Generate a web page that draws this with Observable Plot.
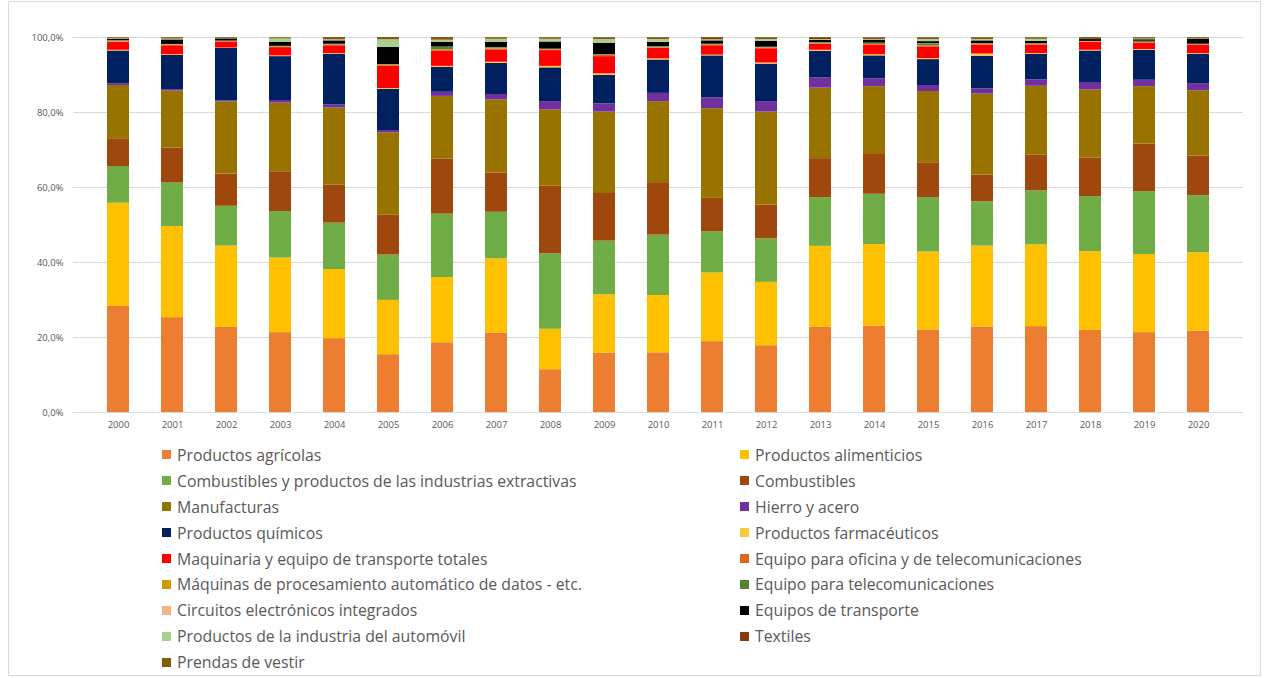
<!DOCTYPE html>
<html><head><meta charset="utf-8">
<script src="https://cdn.jsdelivr.net/npm/d3@7"></script>
<script src="https://cdn.jsdelivr.net/npm/@observablehq/plot@0.6"></script>
<style>
body{margin:0;background:#fff;font-family:"Open Sans",Roboto,sans-serif;}
#frame{position:absolute;left:8px;top:1px;width:1253px;height:675px;border:1px solid #d9d9d9;box-sizing:border-box;}
#chart{position:absolute;left:0;top:0}
#legend{position:absolute;left:162px;top:442px;display:grid;grid-template-columns:578px 500px;grid-auto-rows:25.9px;}
.item{display:flex;align-items:center;font-size:15.8px;color:#595959;white-space:nowrap}
.sw{width:9px;height:9px;margin-right:6px;flex:none}
</style></head>
<body>
<div id="frame"></div>
<div id="chart"></div>
<div id="legend"></div>
<script>
const years = ["2000","2001","2002","2003","2004","2005","2006","2007","2008","2009","2010","2011","2012","2013","2014","2015","2016","2017","2018","2019","2020"];
const categories = [
  "Productos agrícolas","Productos alimenticios",
  "Combustibles y productos de las industrias extractivas","Combustibles",
  "Manufacturas","Hierro y acero",
  "Productos químicos","Productos farmacéuticos",
  "Maquinaria y equipo de transporte totales","Equipo para oficina y de telecomunicaciones",
  "Máquinas de procesamiento automático de datos - etc.","Equipo para telecomunicaciones",
  "Circuitos electrónicos integrados","Equipos de transporte",
  "Productos de la industria del automóvil","Textiles",
  "Prendas de vestir"
];
const colors = ["#ED7D31","#FFC000","#70AD47","#9E480E","#997300","#7030A0","#002060","#FFC93C","#FF0000","#E0661A","#CC9C00","#548235","#F4B183","#000000","#A9D18E","#843C0C","#7F6000"];

const agricolas    = [28.3,25.3,22.7,21.3,19.7,15.4,18.6,21.2,11.4,15.8,15.9,18.9,17.8,22.8,23.0,22.0,22.8,22.9,21.9,21.3,21.7];
const alimenticios = [27.5,24.3,21.7,19.9,18.4,14.5,17.4,19.8,10.8,15.6,15.3,18.3,16.9,21.5,21.8,20.8,21.6,21.8,21.0,20.8,20.9];
const combExtract  = [9.8,11.6,10.6,12.4,12.4,12.1,16.9,12.4,20.1,14.3,16.1,11.0,11.6,13.0,13.4,14.5,11.8,14.4,14.7,16.8,15.2];
const combustibles = [7.4,9.3,8.6,10.6,10.2,10.7,14.7,10.5,18.1,12.7,14.0,8.9,9.0,10.4,10.6,9.3,7.1,9.5,10.3,12.7,10.6];
const manufacturas = [14.2,15.2,19.2,18.3,20.5,21.9,16.7,19.5,20.3,21.7,21.6,23.9,24.8,18.8,18.1,19.0,21.6,18.4,18.1,15.3,17.4];
const hierro       = [0.4,0.4,0.3,0.7,0.8,0.6,1.1,1.4,2.2,2.2,2.2,2.9,2.8,2.7,2.1,1.6,1.4,1.7,2.0,1.7,1.9];
const quimicos     = [8.8,9.1,14.0,11.7,13.5,11.0,6.6,8.3,9.0,7.6,8.9,11.2,10.0,7.1,6.1,6.9,8.7,6.8,8.4,8.0,7.8];
const farmaceut    = [0.2,0.2,0.1,0.2,0.2,0.2,0.3,0.3,0.4,0.4,0.3,0.2,0.3,0.3,0.3,0.3,0.6,0.2,0.2,0.2,0.2];
const maquinaria   = [2.1,2.4,1.6,2.2,2.1,5.9,4.0,3.3,4.2,4.6,2.8,2.5,3.8,1.6,2.6,3.1,2.4,2.3,2.1,1.7,2.2];
const oficinaTel   = [0.15,0.1,0.1,0.1,0.1,0.2,0.3,0.2,0.2,0.3,0.1,0.2,0.2,0.1,0.1,0.2,0.1,0.1,0.1,0.1,0.1];
const procDatos    = [0.1,0.1,0.05,0.1,0.1,0.1,0.1,0.1,0.05,0.05,0.05,0.05,0.05,0.05,0.05,0.05,0.05,0.05,0.05,0.05,0.05];
const telecom      = [0.15,0.1,0.05,0.1,0.15,0.1,0.7,0.3,0.1,0.1,0.25,0.1,0.1,0.25,0.3,0.6,0.2,0.15,0.05,0.3,0.1];
const circuitos    = [0.05,0.05,0.05,0.05,0.05,0.05,0.05,0.05,0.05,0.05,0.05,0.05,0.05,0.05,0.05,0.05,0.05,0.05,0.05,0.05,0.05];
const transporte   = [0.4,1.2,0.6,1.1,0.9,4.6,1.3,1.4,1.9,3.0,1.15,0.9,1.6,0.6,0.8,0.5,0.7,0.6,0.5,0.4,1.3];
const automovil    = [0.15,0.25,0.1,0.9,0.3,2.05,0.55,0.8,0.75,1.1,0.8,0.3,0.5,0.2,0.2,0.6,0.4,0.6,0.05,0.2,0.1];
const textiles     = [0.15,0.2,0.15,0.2,0.3,0.3,0.4,0.25,0.25,0.3,0.3,0.35,0.3,0.3,0.3,0.3,0.3,0.25,0.25,0.2,0.2];
const prendas      = [0.15,0.2,0.1,0.15,0.3,0.3,0.3,0.2,0.2,0.2,0.2,0.25,0.2,0.25,0.2,0.2,0.2,0.2,0.25,0.2,0.2];

const series = [agricolas,alimenticios,combExtract,combustibles,manufacturas,hierro,quimicos,farmaceut,maquinaria,oficinaTel,procDatos,telecom,circuitos,transporte,automovil,textiles,prendas];
const yTicks = [0,0.2,0.4,0.6,0.8,1];

const table = [];
series.forEach((vals, ci) => vals.forEach((v, yi) => table.push({year: years[yi], cat: categories[ci], value: v})));

const chart = Plot.plot({
  width: 1269, height: 440,
  marginTop: 37, marginBottom: 28, marginLeft: 73, marginRight: 26,
  style: {fontFamily: "'Open Sans', sans-serif", fontSize: "9.5px", color: "#595959", background: "transparent"},
  x: {type: "band", domain: years, padding: 0.6, label: null},
  y: {domain: [0, 1], label: null},
  color: {domain: categories, range: colors},
  marks: [
    Plot.gridY(yTicks, {stroke: "#d9d9d9", strokeOpacity: 1, strokeWidth: 1}),
    Plot.barY(table, {x: "year", y: "value", fill: "cat", z: "cat", offset: "normalize", order: null}),
    Plot.axisX({tickSize: 0, tickPadding: 9, label: null, fill: "#595959"}),
    Plot.axisY(yTicks, {tickSize: 0, tickPadding: 10, label: null, fill: "#595959",
      tickFormat: d => (d * 100).toFixed(1).replace(".", ",") + "%"})
  ]
});
document.getElementById("chart").appendChild(chart);

const legend = document.getElementById("legend");
categories.forEach((c, i) => {
  const it = document.createElement("div");
  it.className = "item";
  const sw = document.createElement("span");
  sw.className = "sw";
  sw.style.background = colors[i];
  it.appendChild(sw);
  it.appendChild(document.createTextNode(c));
  legend.appendChild(it);
});
</script>
</body></html>
